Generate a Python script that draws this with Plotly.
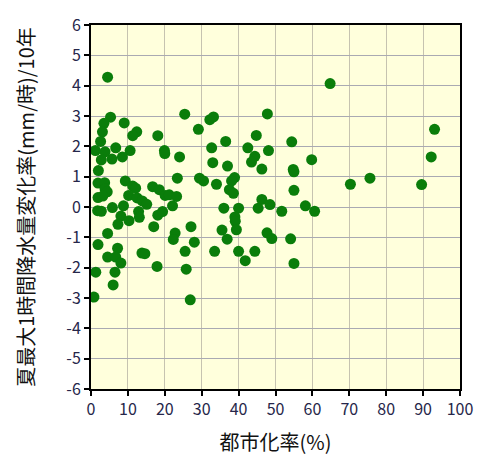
import plotly.graph_objects as go

# 都市化率(%)
urban_rate = [
    4.5, 5.3, 3.5, 9.0, 3.1, 12.4, 11.3, 18.1, 2.6, 6.7,
    1.2, 3.8, 10.6, 19.9, 20.0, 24.0, 5.7, 8.5, 2.8, 2.0,
    25.4, 29.1, 32.2, 33.2, 36.5, 32.7, 33.0, 37.0, 42.5, 44.8,
    47.8, 48.1, 44.4, 43.5, 46.3, 64.8, 93.1, 92.2, 89.6, 75.6,
    70.3, 54.4, 59.8, 54.8, 55.0, 55.0,
    23.4, 29.4, 30.5, 34.0, 38.9, 38.1, 37.5, 38.6, 46.3, 48.5,
    45.3, 36.0, 40.0, 51.7, 58.1, 60.6,
    1.9, 3.7, 3.8, 4.4, 1.9, 3.2, 9.3, 11.3, 12.1, 10.2,
    12.5, 13.9, 15.1, 16.7, 18.5, 20.1, 21.2, 23.2, 22.1, 8.8,
    5.8, 1.8, 2.8, 8.1, 10.3, 7.3, 12.9, 13.1, 18.1, 19.4, 17.0,
    4.5, 22.8, 22.3, 27.1, 28.0, 1.9, 7.2, 13.8, 14.6, 4.5,
    6.7, 8.1, 17.9, 1.3, 6.5, 6.0, 0.8, 26.9, 25.8, 25.5,
    33.5, 35.5, 36.9, 39.0, 39.1, 39.4, 40.0, 41.8, 44.4, 47.7,
    49.0, 54.1, 55.0,
]

# 夏最大1時間降水量変化率(mm/時)/10年
rain_trend = [
    4.28, 2.96, 2.76, 2.77, 2.48, 2.48, 2.35, 2.35, 2.16, 1.95,
    1.86, 1.82, 1.86, 1.86, 1.76, 1.65, 1.58, 1.65, 1.55, 1.20,
    3.06, 2.56, 2.88, 2.97, 2.16, 1.95, 1.46, 1.35, 1.95, 2.36,
    3.07, 1.86, 1.67, 1.48, 1.25, 4.07, 2.56, 1.65, 0.74, 0.95,
    0.75, 2.15, 1.56, 1.24, 1.16, 0.55,
    0.95, 0.95, 0.86, 0.75, 0.97, 0.86, 0.57, 0.45, 0.25, 0.08,
    -0.04, -0.04, -0.04, -0.14, 0.04, -0.14,
    0.79, 0.80, 0.60, 0.50, 0.31, 0.36, 0.86, 0.69, 0.62, 0.38,
    0.30, 0.20, 0.09, 0.67, 0.57, 0.38, 0.40, 0.35, 0.04, 0.04,
    -0.02, -0.12, -0.14, -0.30, -0.45, -0.57, -0.15, -0.34, -0.27, -0.15, -0.65,
    -0.87, -0.86, -1.07, -0.65, -1.16, -1.24, -1.36, -1.52, -1.54, -1.65,
    -1.65, -1.85, -1.96, -2.15, -2.15, -2.57, -2.97, -3.06, -2.05, -1.46,
    -1.46, -0.76, -1.06, -0.33, -0.47, -0.75, -1.46, -1.77, -1.46, -0.85,
    -1.04, -1.05, -1.86,
]

x_ticks = [0, 10, 20, 30, 40, 50, 60, 70, 80, 90, 100]
y_ticks = [-6, -5, -4, -3, -2, -1, 0, 1, 2, 3, 4, 5, 6]

font_family = "Noto Sans CJK JP"
tick_color = "#26264a"

fig = go.Figure()
fig.add_trace(go.Scatter(
    x=urban_rate, y=rain_trend, mode="markers",
    marker=dict(size=11, color="#0a7d0a", line=dict(width=0)),
    showlegend=False, hoverinfo="x+y",
))

fig.update_layout(
    width=485, height=464,
    margin=dict(l=91, r=20, t=16, b=75),
    paper_bgcolor="white",
    plot_bgcolor="#ffffdc",
    font=dict(family=font_family, color="#111"),
    xaxis=dict(
        range=[0, 100], tickvals=x_ticks, ticktext=[str(v) for v in x_ticks],
        showgrid=True, gridcolor="#c6c3b0", gridwidth=1,
        zeroline=False, showline=True, linecolor="black", linewidth=2, mirror=True,
        ticks="outside", ticklen=5, tickwidth=2, tickcolor="black",
        tickfont=dict(size=16, color=tick_color, family=font_family),
        title=dict(text="都市化率(%)", font=dict(size=20, color="#111", family=font_family), standoff=17),
    ),
    yaxis=dict(
        range=[-6, 6], tickvals=y_ticks, ticktext=[str(v) for v in y_ticks],
        showgrid=True, gridcolor="#aaaab2", gridwidth=1,
        zeroline=False, showline=True, linecolor="black", linewidth=2, mirror=True,
        ticks="outside", ticklen=5, tickwidth=2, tickcolor="black",
        tickfont=dict(size=16, color=tick_color, family=font_family),
        title=dict(text="夏最大1時間降水量変化率(mm/時)/10年", font=dict(size=20, color="#111", family=font_family), standoff=26),
    ),
)

fig.write_html("out.html")
